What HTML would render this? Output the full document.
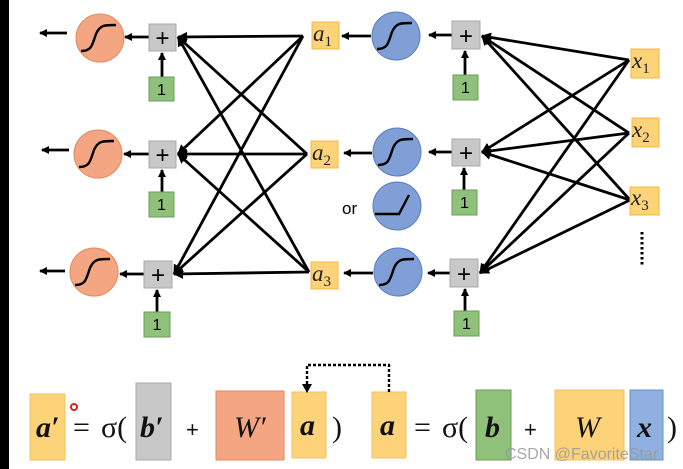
<!DOCTYPE html>
<html><head><meta charset="utf-8"><style>
html,body{margin:0;padding:0;background:#fff;}
svg{display:block;}
text{font-family:"Liberation Serif",serif;}
</style></head><body>
<svg width="683" height="469" viewBox="0 0 683 469" xmlns="http://www.w3.org/2000/svg">
<defs>
<marker id="ah" markerWidth="8" markerHeight="8" refX="7" refY="4" orient="auto" markerUnits="userSpaceOnUse">
<path d="M0,0 L8,4 L0,8 z" fill="#000"/></marker>
<marker id="ah2" markerWidth="10" markerHeight="10" refX="9" refY="5" orient="auto" markerUnits="userSpaceOnUse">
<path d="M0,0 L10,5 L0,10 z" fill="#000"/></marker>
</defs>
<rect x="0" y="0" width="9" height="469" fill="#000"/>

<g stroke="#000" stroke-width="2.8" fill="none" marker-end="url(#ah2)">
<line x1="303" y1="36" x2="178" y2="37"/>
<line x1="303" y1="36" x2="178" y2="154"/>
<line x1="303" y1="36" x2="174" y2="274"/>
<line x1="307" y1="154" x2="178" y2="37"/>
<line x1="307" y1="154" x2="178" y2="154"/>
<line x1="307" y1="154" x2="174" y2="274"/>
<line x1="309" y1="272" x2="178" y2="37"/>
<line x1="309" y1="272" x2="178" y2="154"/>
<line x1="309" y1="272" x2="174" y2="274"/>
<line x1="629" y1="60" x2="482" y2="36"/>
<line x1="629" y1="60" x2="482" y2="152"/>
<line x1="629" y1="60" x2="480" y2="273"/>
<line x1="629" y1="133" x2="482" y2="36"/>
<line x1="629" y1="133" x2="482" y2="152"/>
<line x1="629" y1="133" x2="480" y2="273"/>
<line x1="630" y1="200" x2="482" y2="36"/>
<line x1="630" y1="200" x2="482" y2="152"/>
<line x1="630" y1="200" x2="480" y2="273"/>
</g>

<g stroke="#000" stroke-width="2.8" fill="none" marker-end="url(#ah)">
<line x1="67" y1="33" x2="40" y2="33"/>
<line x1="69" y1="150" x2="42" y2="150"/>
<line x1="65" y1="271" x2="40" y2="271"/>
<line x1="149" y1="37" x2="125" y2="37"/>
<line x1="149" y1="154" x2="124" y2="154"/>
<line x1="144" y1="274" x2="120" y2="274"/>
<line x1="162" y1="77" x2="162" y2="53"/>
<line x1="162" y1="192" x2="162" y2="170"/>
<line x1="157" y1="312" x2="157" y2="290"/>
<line x1="371" y1="36" x2="342" y2="36"/>
<line x1="372" y1="153" x2="344" y2="153"/>
<line x1="373" y1="273" x2="344" y2="273"/>
<line x1="452" y1="35" x2="429" y2="35"/>
<line x1="452" y1="152" x2="429" y2="152"/>
<line x1="450" y1="273" x2="428" y2="273"/>
<line x1="465" y1="75" x2="465" y2="51"/>
<line x1="464" y1="190" x2="464" y2="168"/>
<line x1="465" y1="311" x2="465" y2="289"/>
</g>

<g fill="#f4a582" stroke="#e08a60" stroke-width="1">
<circle cx="100" cy="38" r="24"/><circle cx="98" cy="154" r="24"/><circle cx="94" cy="272" r="24"/>
</g>
<g fill="#7f9fd6" stroke="#5a7cc0" stroke-width="1">
<circle cx="396" cy="36" r="24"/><circle cx="397" cy="152" r="24"/><circle cx="397" cy="206" r="24"/><circle cx="398" cy="272" r="24"/>
</g>
<g stroke="#000" stroke-width="2.4" fill="none">
<path d="M81,51 C92,51 92,45 96,34 C100,25 104,25 116,25"/>
<path d="M79,167 C90,167 90,161 94,150 C98,141 102,141 114,141"/>
<path d="M75,285 C86,285 86,279 90,268 C94,259 98,259 110,259"/>
<path d="M377,49 C388,49 388,43 392,32 C396,23 400,23 412,23"/>
<path d="M378,165 C389,165 389,159 393,148 C397,139 401,139 413,139"/>
<path d="M379,285 C390,285 390,279 394,268 C398,259 402,259 414,259"/>
<path d="M375,214 L399,214 L409,195"/>
</g>

<g fill="#c8c8c8" stroke="#a8a8a8" stroke-width="1">
<rect x="149" y="24" width="27" height="27"/><rect x="149" y="141" width="27" height="27"/><rect x="144" y="261" width="28" height="27"/>
<rect x="452" y="21" width="28" height="28"/><rect x="452" y="139" width="28" height="27"/><rect x="450" y="259" width="28" height="28"/>
</g>
<g font-size="24" text-anchor="middle" fill="#000">
<text x="162.5" y="46" style="font-family:'Liberation Sans',sans-serif">+</text>
<text x="162.5" y="163" style="font-family:'Liberation Sans',sans-serif">+</text>
<text x="158" y="283" style="font-family:'Liberation Sans',sans-serif">+</text>
<text x="466" y="44" style="font-family:'Liberation Sans',sans-serif">+</text>
<text x="466" y="161" style="font-family:'Liberation Sans',sans-serif">+</text>
<text x="464" y="282" style="font-family:'Liberation Sans',sans-serif">+</text>
</g>
<g fill="#8fc17a" stroke="#6a9e58" stroke-width="1">
<rect x="149" y="77" width="25" height="24"/><rect x="149" y="192" width="25" height="25"/><rect x="144" y="312" width="26" height="25"/>
<rect x="453" y="75" width="25" height="25"/><rect x="452" y="190" width="25" height="25"/><rect x="454" y="311" width="25" height="25"/>
</g>
<g font-size="16" text-anchor="middle" fill="#000">
<text x="161.5" y="95" style="font-family:'Liberation Sans',sans-serif">1</text>
<text x="161.5" y="210" style="font-family:'Liberation Sans',sans-serif">1</text>
<text x="157" y="330" style="font-family:'Liberation Sans',sans-serif">1</text>
<text x="465.5" y="93" style="font-family:'Liberation Sans',sans-serif">1</text>
<text x="464.5" y="208" style="font-family:'Liberation Sans',sans-serif">1</text>
<text x="466.5" y="329" style="font-family:'Liberation Sans',sans-serif">1</text>
</g>

<g fill="#fdd37a" stroke="#f0b840" stroke-width="1">
<rect x="312" y="22" width="27" height="27"/><rect x="311" y="141" width="27" height="27"/><rect x="311" y="262" width="27" height="27"/>
<rect x="631" y="49" width="28" height="29"/><rect x="632" y="118" width="27" height="29"/><rect x="630" y="187" width="29" height="28"/>
</g>
<g font-style="italic" font-size="23" fill="#222">
<text x="313" y="41">a<tspan font-size="15" font-style="normal" dy="5">1</tspan></text>
<text x="312" y="160">a<tspan font-size="15" font-style="normal" dy="5">2</tspan></text>
<text x="312" y="281">a<tspan font-size="15" font-style="normal" dy="5">3</tspan></text>
<text x="632" y="68">x<tspan font-size="15" font-style="normal" dy="5">1</tspan></text>
<text x="632" y="137">x<tspan font-size="15" font-style="normal" dy="5">2</tspan></text>
<text x="631" y="205">x<tspan font-size="15" font-style="normal" dy="5">3</tspan></text>
</g>
<text x="342" y="214" font-size="17" style="font-family:'Liberation Sans',sans-serif">or</text>
<line x1="642" y1="232" x2="642" y2="266" stroke="#000" stroke-width="3" stroke-dasharray="2.5,2.5"/>

<rect x="30" y="394" width="35" height="66" fill="#fdd37a" stroke="#f0c060"/>
<rect x="136" y="383" width="35" height="77" fill="#c8c8c8" stroke="#a8a8a8"/>
<rect x="216" y="391" width="68" height="69" fill="#f4a582" stroke="#e08a60"/>
<rect x="292" y="392" width="34" height="66" fill="#fdd37a" stroke="#f0c060"/>
<rect x="372" y="392" width="34" height="66" fill="#fdd37a" stroke="#f0c060"/>
<rect x="476" y="390" width="35" height="70" fill="#8fc17a" stroke="#6a9e58"/>
<rect x="555" y="390" width="69" height="70" fill="#fdd37a" stroke="#f0c060"/>
<rect x="630" y="390" width="33" height="70" fill="#8fb0e0" stroke="#6a90c8"/>
<circle cx="74" cy="407" r="3" fill="#fff" stroke="#e02020" stroke-width="2"/>

<path d="M389,392 L389,365 L307,365 L307,388" stroke="#000" stroke-width="2.4" fill="none" stroke-dasharray="3,2"/>
<path d="M302,384 L307,393 L312,384 z" fill="#000"/>

<g font-size="30" fill="#111">
<text x="36" y="437" font-weight="bold" font-style="italic">a′</text>
<text x="73" y="437">=</text>
<text x="101" y="437">σ(</text>
<text x="140" y="437" font-weight="bold" font-style="italic">b′</text>
<text x="186" y="437" font-size="22" style="font-family:'Liberation Sans',sans-serif">+</text>
<text x="234" y="437" font-style="italic">W′</text>
<text x="300" y="435" font-weight="bold" font-style="italic">a</text>
<text x="332" y="437">)</text>
<text x="380" y="435" font-weight="bold" font-style="italic">a</text>
<text x="414" y="437">=</text>
<text x="442" y="437">σ(</text>
<text x="485" y="437" font-weight="bold" font-style="italic">b</text>
<text x="524" y="437" font-size="22" style="font-family:'Liberation Sans',sans-serif">+</text>
<text x="575" y="437" font-style="italic">W</text>
<text x="637" y="437" font-weight="bold" font-style="italic">x</text>
<text x="667" y="437">)</text>
</g>
<text x="505" y="459" font-size="16" fill="#999" opacity="0.85" style="font-family:'Liberation Sans',sans-serif">CSDN @FavoriteStar</text>
</svg>
</body></html>
